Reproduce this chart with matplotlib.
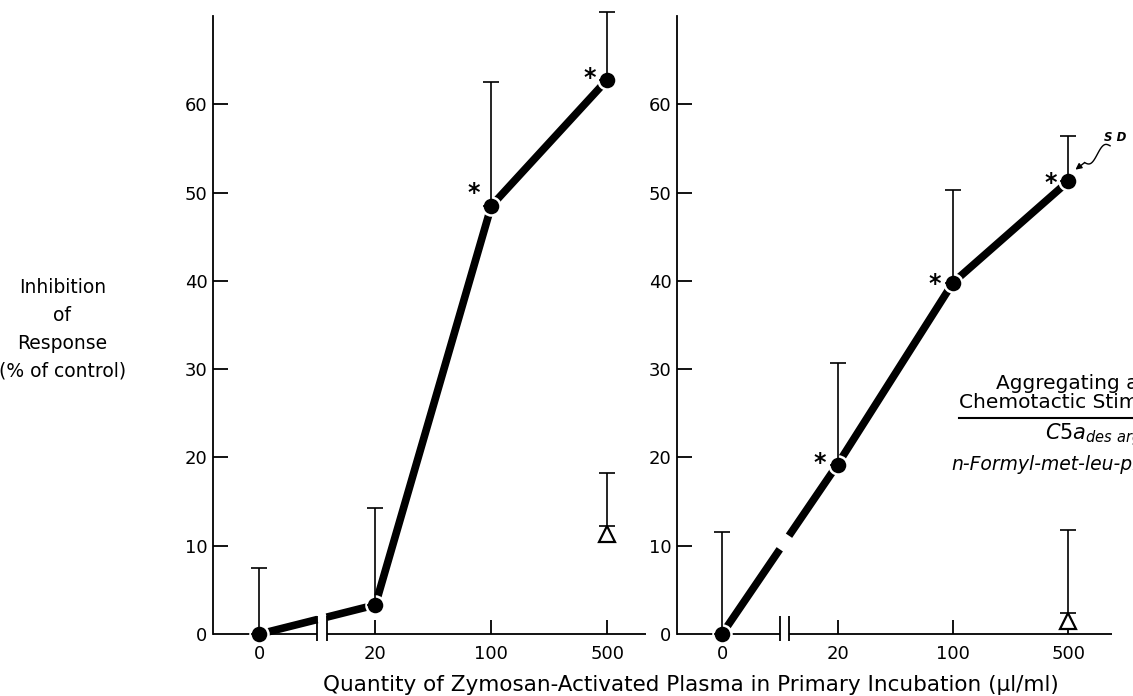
import numpy as np
import matplotlib.pyplot as plt

plt.rcParams["font.family"] = ["DejaVu Sans"]

# categorical x positions (0, 20, 100, 500 ul/ml)
dose_labels = ["0", "20", "100", "500"]
dose_pos = [0, 1, 2, 3]

# left panel: filled circles
left_mean = [0.0, 3.3, 48.5, 62.8]
left_sd_top = [7.5, 14.3, 62.5, 70.5]
left_star = [False, False, True, True]
# left panel: open triangle at 500
left_tri_x = [3]
left_tri_mean = [11.3]
left_tri_top = [18.2]

# right panel
right_mean = [0.0, 19.2, 39.8, 51.3]
right_sd_top = [11.6, 30.7, 50.3, 56.4]
right_star = [False, True, True, True]
right_tri_x = [3]
right_tri_mean = [1.5]
right_tri_top = [11.8]

BREAK = (0.5, 0.58)
YTICKS = [10, 20, 30, 40, 50, 60]

fig = plt.figure(figsize=(11.33, 6.96), dpi=100)
ax_l = fig.add_axes([0.188, 0.089, 0.3818, 0.888])
ax_r = fig.add_axes([0.5975, 0.089, 0.3843, 0.888])


def draw_panel(ax, xlim, mean, top, stars, tri_x, tri_mean, tri_top, star_dy):
    ax.set_xlim(*xlim)
    ax.set_ylim(0, 70)
    for s in ("top", "right", "bottom"):
        ax.spines[s].set_visible(False)
    ax.spines["left"].set_linewidth(1.3)

    # y axis
    ax.set_yticks([0] + YTICKS)
    ax.set_yticklabels(["0"] + [str(t) for t in YTICKS], fontsize=13)
    ax.tick_params(axis="y", direction="in", length=11, width=1.3, pad=4)
    ax.yaxis.get_major_ticks()[0].tick1line.set_visible(False)

    # x axis
    ax.set_xticks(dose_pos)
    ax.set_xticklabels(dose_labels, fontsize=13)
    ax.tick_params(axis="x", direction="in", length=10, width=1.3, pad=8)
    ax.xaxis.get_major_ticks()[0].tick1line.set_visible(False)

    # broken x axis line
    kw = dict(color="black", lw=1.3, clip_on=False, solid_capstyle="butt")
    ax.plot([xlim[0], BREAK[0]], [0, 0], **kw)
    ax.plot([BREAK[1], xlim[1]], [0, 0], **kw)
    for b in BREAK:
        ax.plot([b, b], [-0.8, 2.1], **kw)

    # thick data line, interrupted at the axis break
    y_b0 = np.interp(BREAK[0], dose_pos, mean)
    y_b1 = np.interp(BREAK[1], dose_pos, mean)
    lkw = dict(color="black", lw=5.5, solid_capstyle="butt", zorder=2, clip_on=False)
    ax.plot([dose_pos[0], BREAK[0]], [mean[0], y_b0], **lkw)
    ax.plot([BREAK[1]] + dose_pos[1:], [y_b1] + mean[1:], **lkw)

    # SD bars (upper only)
    ax.errorbar(dose_pos, mean, yerr=[np.zeros(4), np.array(top) - np.array(mean)],
                fmt="none", ecolor="black", elinewidth=1.2, capsize=6, capthick=1.2,
                zorder=4, clip_on=False)
    ax.plot(dose_pos, mean, "o", ms=13, color="black", mec="white", mew=1.8,
            zorder=3, clip_on=False)

    # triangles
    tri_base = [m + 0.9 for m in tri_mean]
    ax.errorbar(tri_x, tri_base, yerr=[[0] * len(tri_x), np.array(tri_top) - np.array(tri_base)],
                fmt="none", ecolor="black", elinewidth=1.2, capsize=6, capthick=1.2,
                zorder=4, clip_on=False)
    ax.plot(tri_x, tri_mean, "^", ms=11, mfc="white", mec="black", mew=1.6,
            zorder=5, clip_on=False)

    # significance asterisks
    for x, y, s, dy in zip(dose_pos, mean, stars, star_dy):
        if s:
            ax.annotate("*", (x, y), xytext=(-13, dy), textcoords="offset points",
                        ha="center", va="center", fontsize=17, fontweight="bold")


draw_panel(ax_l, (-0.4, 3.33), left_mean, left_sd_top, left_star,
           left_tri_x, left_tri_mean, left_tri_top, [0, 0, 9, 1])
draw_panel(ax_r, (-0.39, 3.38), right_mean, right_sd_top, right_star,
           right_tri_x, right_tri_mean, right_tri_top, [0, 1, -1, -1])

# y label
fig.text(0.055, 0.527, "Inhibition\nof\nResponse\n(% of control)", ha="center",
         va="center", fontsize=13.5, linespacing=1.6)

# x label
fig.text(0.61, 0.016, "Quantity of Zymosan-Activated Plasma in Primary Incubation (\u00b5l/ml)",
         ha="center", va="center", fontsize=15.5)

# legend block (cut off by the figure edge as in the source)
fig.text(0.879, 0.449, "Aggregating and", ha="left", va="center", fontsize=14.5)
fig.text(0.846, 0.422, "Chemotactic Stimuli", ha="left", va="center", fontsize=14.5)
fig.add_artist(plt.Line2D([0.846, 1.0], [0.399, 0.399], transform=fig.transFigure,
                          color="black", lw=1.5))
fig.text(0.922, 0.375, r"$C5a_{des\ arg}$", ha="left", va="center", fontsize=15,
         math_fontfamily="dejavusans")
fig.text(0.840, 0.333, "n-Formyl-met-leu-phe", ha="left", va="center", fontsize=13.5,
         style="italic")

# SD callout with a wavy arrow
ax_r.text(1.007, 0.803, "S D", transform=ax_r.transAxes, fontsize=8.5, style="italic",
          fontweight="bold", ha="center", va="center")
t = np.linspace(0, 1, 60)
wx = 3.36 - 0.22 * t
wy = 55.3 - 1.9 * t + 0.55 * np.sin(t * 2 * np.pi)
ax_r.plot(wx, wy, color="black", lw=1.0, clip_on=False)
ax_r.annotate("", xy=(3.06, 52.6), xytext=(wx[-1], wy[-1]),
              arrowprops=dict(arrowstyle="-|>", color="black", lw=1.0, mutation_scale=9,
                              shrinkA=0, shrinkB=0),
              annotation_clip=False)

fig.savefig("out.png", dpi=100)
